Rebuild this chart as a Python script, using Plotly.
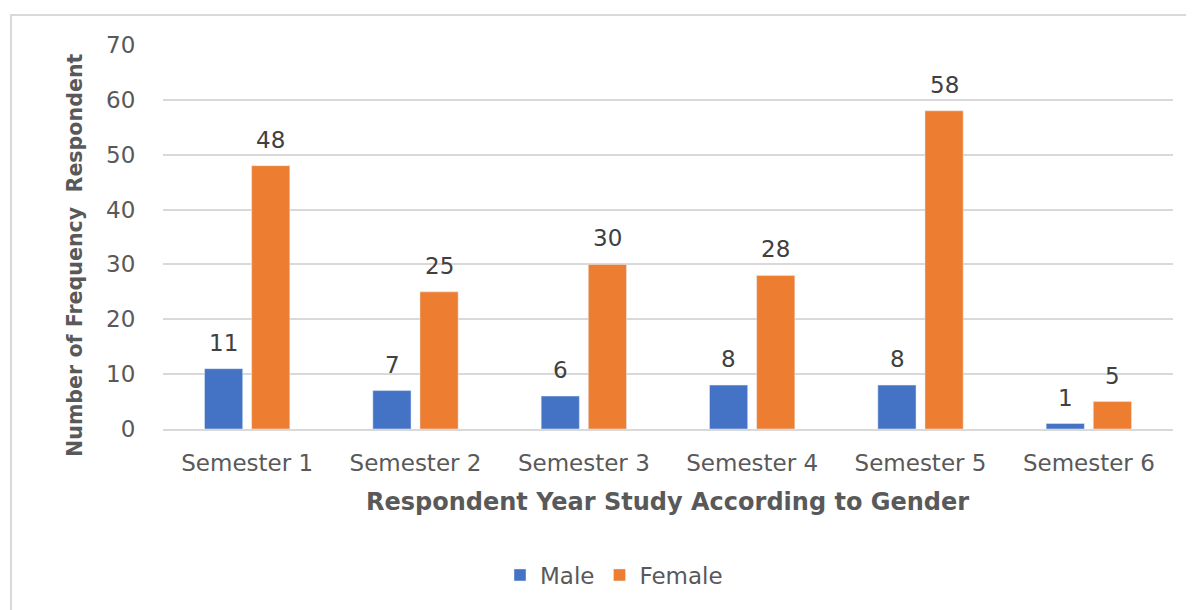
import plotly.graph_objects as go

categories = ["Semester 1", "Semester 2", "Semester 3", "Semester 4", "Semester 5", "Semester 6"]
male = [11, 7, 6, 8, 8, 1]
female = [48, 25, 30, 28, 58, 5]
y_ticks = [0, 10, 20, 30, 40, 50, 60, 70]

OFF = 8  # page body margin
W, H = 1194 - OFF, 610 - OFF
L, R, T, B = 163 - OFF, 21, 45 - OFF, 610 - 429
pw, ph = W - L - R, H - T - B

font_family = "DejaVu Sans, sans-serif"
GREY = "#595959"

fig = go.Figure()
fig.add_trace(go.Bar(name="Male", x=categories, y=male, marker_color="#4472C4"))
fig.add_trace(go.Bar(name="Female", x=categories, y=female, marker_color="#ED7D31"))

for vals, dx in ((male, -23.5), (female, 23.5)):
    for c, v in zip(categories, vals):
        fig.add_annotation(x=c, y=v, text=str(v), showarrow=False,
                           xshift=dx, yshift=26, yanchor="middle",
                           font=dict(size=23, color="#404040", family=font_family))


def px_x(p):
    return (p - OFF - L) / pw


def px_y(p):
    return (H - B - (p - OFF)) / ph


fig.add_shape(type="rect", xref="paper", yref="paper",
              x0=px_x(11), x1=px_x(1300), y0=px_y(700), y1=px_y(15),
              line=dict(color="#D9D9D9", width=2), fillcolor="rgba(0,0,0,0)", layer="below")

fig.add_annotation(xref="paper", yref="paper", x=px_x(75), y=px_y(255),
                   text="<b>Number of Frequency  Respondent</b>", textangle=-90,
                   showarrow=False, xanchor="center", yanchor="middle",
                   font=dict(size=20.6, color=GREY, family=font_family))

fig.add_annotation(xref="paper", yref="paper", x=px_x(667), y=px_y(502),
                   text="<b>Respondent Year Study According to Gender</b>",
                   showarrow=False, xanchor="center", yanchor="middle",
                   font=dict(size=24, color=GREY, family=font_family))

fig.update_layout(
    width=W, height=H,
    margin=dict(l=L, r=R, t=T, b=B),
    plot_bgcolor="white", paper_bgcolor="white",
    barmode="group", bargap=0.44, bargroupgap=0.19,
    font=dict(family=font_family, color=GREY, size=23),
    xaxis=dict(
        showline=True, linecolor="#D9D9D9", linewidth=2,
        ticks="outside", ticklen=12, tickcolor="rgba(0,0,0,0)",
        tickfont=dict(size=23, color=GREY),
    ),
    yaxis=dict(
        range=[0, 70], tickvals=y_ticks,
        showgrid=True, gridcolor="#D9D9D9", gridwidth=1.5,
        zeroline=False, showline=False,
        ticks="outside", ticklen=22, tickcolor="rgba(0,0,0,0)",
        tickfont=dict(size=23, color=GREY),
    ),
    legend=dict(orientation="h", x=px_x(614), xanchor="center", y=px_y(575), yanchor="middle",
                font=dict(size=23, color=GREY), itemwidth=30,
                traceorder="normal"),
)

fig.write_html("out.html")
